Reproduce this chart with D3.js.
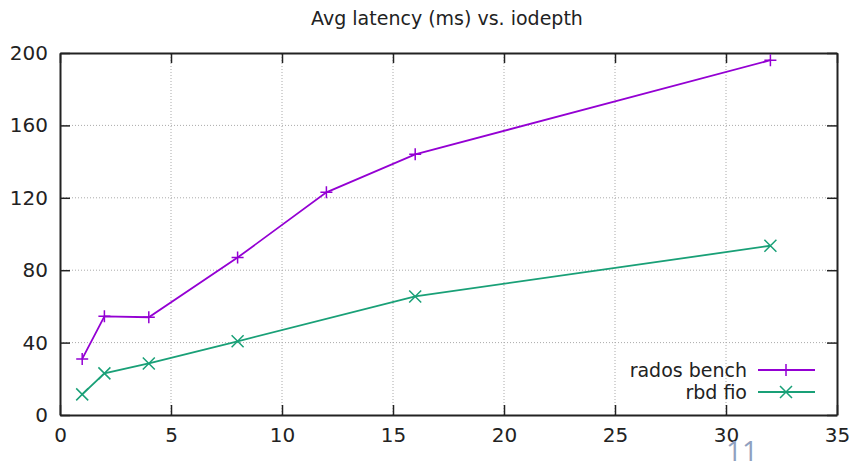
<!DOCTYPE html>
<html>
<head>
<meta charset="utf-8">
<script src="https://cdn.jsdelivr.net/npm/d3@7"></script>
<style>
  body { margin: 0; background: #fff; }
  text { font-family: "DejaVu Sans", sans-serif; fill: #222; }
</style>
</head>
<body>
<div id="chart"></div>
<script>
// iodepth vs avg latency (ms)
const radosX = [1, 2, 4, 8, 12, 16, 32]
const radosY = [31, 54.5, 54, 87, 123, 144, 196]
const fioX = [1, 2, 4, 8, 16, 32]
const fioY = [11.4, 23, 28.5, 40.7, 65.5, 93.5]
const xTicks = [0, 5, 10, 15, 20, 25, 30, 35]
const yTicks = [0, 40, 80, 120, 160, 200]

const width = 856, height = 464
const m = {left: 60, right: 19, top: 53, bottom: 49}

const svg = d3.select("#chart").append("svg")
    .attr("width", width)
    .attr("height", height)

const x = d3.scaleLinear().domain([0, 35]).range([m.left, width - m.right])
const y = d3.scaleLinear().domain([0, 200]).range([height - m.bottom, m.top])

// grid
const grid = svg.append("g")
grid.selectAll("line.vx")
    .data(xTicks.slice(1, -1))
    .enter().append("line")
    .attr("x1", d => x(d)).attr("x2", d => x(d))
    .attr("y1", y(0)).attr("y2", y(200))
    .attr("stroke", "#aaa").attr("stroke-width", 1).attr("stroke-dasharray", "1,2")
grid.selectAll("line.hy")
    .data(yTicks.slice(1, -1))
    .enter().append("line")
    .attr("x1", x(0)).attr("x2", x(35))
    .attr("y1", d => y(d)).attr("y2", d => y(d))
    .attr("stroke", "#aaa").attr("stroke-width", 1).attr("stroke-dasharray", "1,2")

// axes (gnuplot style: ticks inside, mirrored)
const tl = 10
svg.append("g").attr("transform", `translate(0,${y(0)})`)
    .call(d3.axisBottom(x).tickValues(xTicks).tickSizeInner(-tl).tickSizeOuter(0).tickPadding(13))
svg.append("g").attr("transform", `translate(0,${y(200)})`)
    .call(d3.axisTop(x).tickValues(xTicks).tickSizeInner(-tl).tickSizeOuter(0).tickFormat(""))
svg.append("g").attr("transform", `translate(${x(0)},0)`)
    .call(d3.axisLeft(y).tickValues(yTicks).tickSizeInner(-tl).tickSizeOuter(0).tickPadding(12))
svg.append("g").attr("transform", `translate(${x(35)},0)`)
    .call(d3.axisRight(y).tickValues(yTicks).tickSizeInner(-tl).tickSizeOuter(0).tickFormat(""))

svg.selectAll(".tick line").attr("stroke", "#222").attr("stroke-width", 1.5)
svg.selectAll(".domain").attr("stroke", "#222").attr("stroke-width", 2)
svg.selectAll(".tick text").style("font-size", "20px").attr("fill", "#222")
    .style("font-family", "'DejaVu Sans', sans-serif")

// title
svg.append("text")
    .attr("x", 447).attr("y", 25)
    .attr("text-anchor", "middle")
    .style("font-size", "19px")
    .text("Avg latency (ms) vs. iodepth")

const line = d3.line().x(d => x(d[0])).y(d => y(d[1]))
const radosPts = radosX.map((v, i) => [v, radosY[i]])
const fioPts = fioX.map((v, i) => [v, fioY[i]])
const purple = "#9400d3", green = "#19a077"

function plus(g, cx, cy, col) {
    g.append("path").attr("d", `M${cx - 6},${cy}H${cx + 6}M${cx},${cy - 6}V${cy + 6}`)
        .attr("stroke", col).attr("stroke-width", 1.5).attr("fill", "none")
}
function cross(g, cx, cy, col) {
    g.append("path").attr("d", `M${cx - 6},${cy - 6}L${cx + 6},${cy + 6}M${cx - 6},${cy + 6}L${cx + 6},${cy - 6}`)
        .attr("stroke", col).attr("stroke-width", 1.5).attr("fill", "none")
}

svg.append("path").datum(radosPts).attr("d", line)
    .attr("fill", "none").attr("stroke", purple).attr("stroke-width", 1.8)
svg.append("path").datum(fioPts).attr("d", line)
    .attr("fill", "none").attr("stroke", green).attr("stroke-width", 1.8)
const mk = svg.append("g")
radosPts.forEach(p => plus(mk, x(p[0]), y(p[1]), purple))
fioPts.forEach(p => cross(mk, x(p[0]), y(p[1]), green))

// legend
const leg = svg.append("g")
const series = [["rados bench", purple, plus], ["rbd fio", green, cross]]
series.forEach((s, i) => {
    const ly = 370 + i * 22
    leg.append("text").attr("x", 747).attr("y", ly).attr("dy", "0.35em")
        .attr("text-anchor", "end").style("font-size", "19px").text(s[0])
    leg.append("line").attr("x1", 758).attr("x2", 815).attr("y1", ly).attr("y2", ly)
        .attr("stroke", s[1]).attr("stroke-width", 1.8)
    s[2](leg, 786, ly, s[1])
})

// slide number
svg.append("text")
    .attr("x", 742).attr("y", 461)
    .attr("text-anchor", "middle")
    .style("font-size", "28px")
    .style("font-family", "'Liberation Sans Narrow', 'Open Sans', sans-serif")
    .style("fill", "#8fa0c0")
    .text("11")
</script>
</body>
</html>
